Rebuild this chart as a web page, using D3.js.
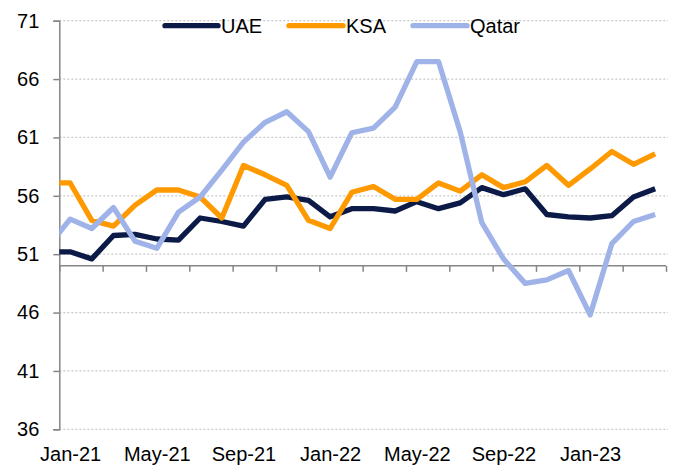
<!DOCTYPE html>
<html>
<head>
<meta charset="utf-8">
<script src="https://cdn.jsdelivr.net/npm/d3@7/dist/d3.min.js"></script>
<style>
  html, body { margin: 0; padding: 0; background: #ffffff; }
  svg { display: block; font-family: "Liberation Sans", Arial, sans-serif; }
</style>
</head>
<body>
<svg id="chart" width="675" height="472"></svg>
<script>
// ---- data ----
// "Dec-20" lies just left of the plot area and is clipped away (only its segment edge shows)
const months = ["Dec-20","Jan-21","Feb-21","Mar-21","Apr-21","May-21","Jun-21","Jul-21","Aug-21","Sep-21","Oct-21","Nov-21","Dec-21",
  "Jan-22","Feb-22","Mar-22","Apr-22","May-22","Jun-22","Jul-22","Aug-22","Sep-22","Oct-22","Nov-22","Dec-22",
  "Jan-23","Feb-23","Mar-23","Apr-23"];
const uae   = [51.2, 51.2, 50.6, 52.6, 52.7, 52.3, 52.2, 54.1, 53.8, 53.4, 55.7, 55.9, 55.6,
  54.2, 54.9, 54.9, 54.7, 55.5, 54.9, 55.4, 56.7, 56.1, 56.6, 54.4, 54.2, 54.1, 54.3, 55.9, 56.6];
const ksa   = [57.1, 57.1, 53.9, 53.4, 55.2, 56.5, 56.5, 55.9, 54.1, 58.6, 57.8, 56.9, 53.9,
  53.2, 56.3, 56.8, 55.7, 55.7, 57.1, 56.4, 57.8, 56.7, 57.2, 58.6, 56.9, 58.3, 59.8, 58.7, 59.6];
const qatar = [51.7, 54.0, 53.2, 55.0, 52.1, 51.5, 54.6, 55.9, 58.2, 60.6, 62.3, 63.2, 61.5,
  57.6, 61.4, 61.8, 63.6, 67.5, 67.5, 61.5, 53.7, 50.6, 48.5, 48.8, 49.6, 45.8, 51.9, 53.8, 54.4];
const seriesNames = ["UAE", "KSA", "Qatar"];
const seriesValues = [uae, ksa, qatar];
const colors = ["#0c1a47", "#ff9900", "#9fb3e8"];
const yTicks = [36, 41, 46, 51, 56, 61, 66, 71];
const xLabelMonths = ["Jan-21","May-21","Sep-21","Jan-22","May-22","Sep-22","Jan-23"];

// ---- layout ----
const svg = d3.select("#chart");
const pLeft = 59.3, pRight = 666, pTop = 20.7, pBottom = 429.3;
const x = d3.scaleLinear().domain([0.5, months.length - 0.5]).range([pLeft, pRight]);
const y = d3.scaleLinear().domain([36, 71]).range([pBottom, pTop]);
const axisY = y(50);
const FONT = "'Liberation Sans', Arial, sans-serif";
const FS = 20;

// grid lines
svg.append("g").selectAll("line").data(yTicks).join("line")
  .attr("x1", pLeft).attr("x2", pRight + 2)
  .attr("y1", d => y(d)).attr("y2", d => y(d))
  .attr("stroke", "#c8c8c8").attr("stroke-width", 1.2)
  .attr("stroke-dasharray", "2,2");

// y axis
const yAxis = d3.axisLeft(y).tickValues(yTicks).tickSize(6).tickPadding(14).tickFormat(d3.format("d"));
const gy = svg.append("g").attr("transform", `translate(${pLeft},0)`).call(yAxis);
gy.select(".domain").attr("stroke", "#868686").attr("stroke-width", 1.5);
gy.selectAll(".tick line").attr("stroke", "#868686").attr("stroke-width", 1.5);
gy.selectAll(".tick text").attr("font-size", FS).attr("fill", "#000").attr("font-family", FONT);

// x axis (crosses at 50), ticks between categories every 2 months
const tickIdx = d3.range(0.5, months.length, 2);
const xAxis = d3.axisBottom(x).tickValues(tickIdx).tickSize(6).tickFormat("");
const gx = svg.append("g").attr("transform", `translate(0,${axisY})`).call(xAxis);
gx.select(".domain").attr("stroke", "#868686").attr("stroke-width", 1.5).attr("d", `M${pLeft},0H${pRight}`);
gx.selectAll(".tick line").attr("stroke", "#868686").attr("stroke-width", 1.5);

// x labels at bottom
const labelAxis = d3.axisBottom(x)
  .tickValues(xLabelMonths.map(m => months.indexOf(m)))
  .tickSize(0).tickPadding(0)
  .tickFormat(i => months[i]);
const gl = svg.append("g").attr("transform", `translate(0,446.5)`).call(labelAxis);
gl.select(".domain").remove();
gl.selectAll(".tick text").attr("font-size", FS).attr("fill", "#000").attr("font-family", FONT);

// clip
svg.append("clipPath").attr("id", "plotclip").append("rect")
  .attr("x", pLeft).attr("y", 0).attr("width", pRight - pLeft).attr("height", 472);

const line = d3.line().x((d, i) => x(i)).y(d => y(d));
const gLines = svg.append("g").attr("clip-path", "url(#plotclip)");
seriesValues.forEach((vals, k) => {
  gLines.append("path").datum(vals)
    .attr("d", line)
    .attr("fill", "none")
    .attr("stroke", colors[k])
    .attr("stroke-width", 5.3)
    .attr("stroke-linejoin", "round");
});

// legend
const legendItems = [
  { x1: 165, x2: 218, tx: 221 },
  { x1: 289, x2: 343, tx: 346 },
  { x1: 413, x2: 467, tx: 470 }
];
const lg = svg.append("g");
seriesNames.forEach((name, k) => {
  const it = legendItems[k];
  lg.append("line").attr("x1", it.x1).attr("x2", it.x2).attr("y1", 25.7).attr("y2", 25.7)
    .attr("stroke", colors[k]).attr("stroke-width", 5.3).attr("stroke-linecap", "round");
  lg.append("text").attr("x", it.tx).attr("y", 33)
    .attr("font-size", FS).attr("fill", "#000").attr("font-family", FONT).text(name);
});
</script>
</body>
</html>
